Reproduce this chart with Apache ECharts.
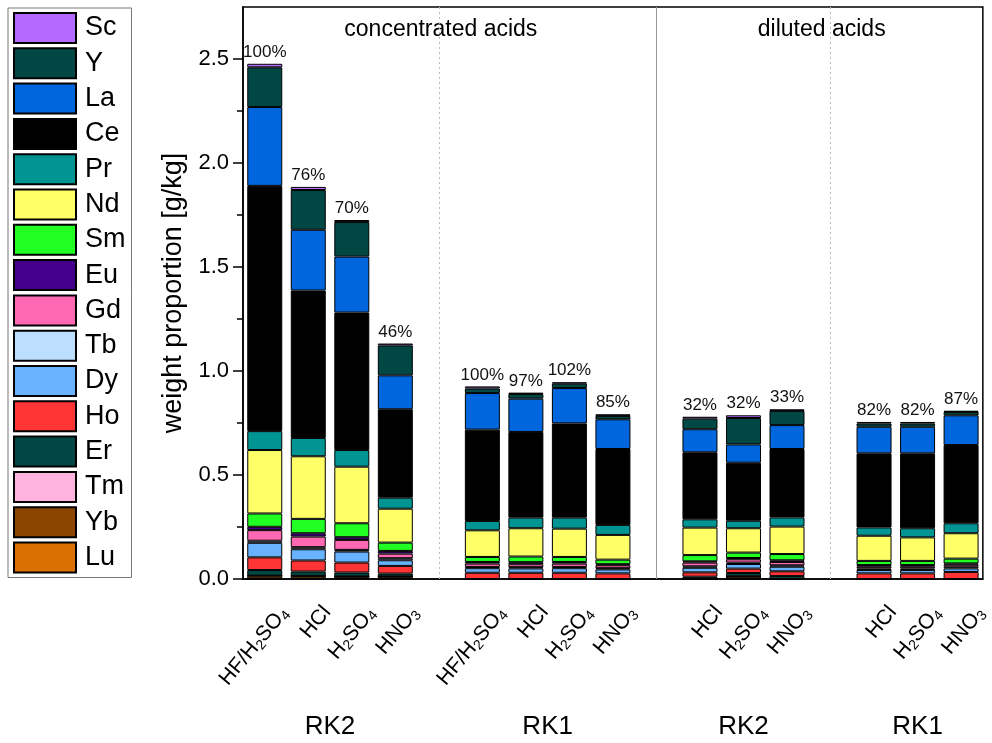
<!DOCTYPE html>
<html>
<head>
<meta charset="utf-8">
<script src="https://cdn.jsdelivr.net/npm/echarts@6/dist/echarts.min.js"></script>
<style>
  html, body { margin: 0; padding: 0; background: #fff; }
  #main { width: 992px; height: 743px; }
</style>
</head>
<body>
<div id="main"></div>
<script>
// bars left to right, the empty slots between the groups are added further down
var categories = ['HF/H2SO4', 'HCl', 'H2SO4', 'HNO3', 'HF/H2SO4', 'HCl', 'H2SO4', 'HNO3', 'HCl', 'H2SO4', 'HNO3', 'HCl', 'H2SO4', 'HNO3'];
var groupSizes = [4, 4, 3, 3];
var groupNames = ['RK2', 'RK1', 'RK2', 'RK1'];
var sectionNames = ['concentrated acids', 'diluted acids'];
var percents = ['100%', '76%', '70%', '46%', '100%', '97%', '102%', '85%', '32%', '32%', '33%', '82%', '82%', '87%'];
var yTicks = [0, 0.5, 1.0, 1.5, 2.0, 2.5];
var yMinorTicks = [0.25, 0.75, 1.25, 1.75, 2.25];

// weight proportion in g/kg per element (stacked from Lu at the bottom to Sc on top)
var Lu = [0.002, 0.002, 0.002, 0.002, 0, 0, 0, 0, 0, 0.002, 0, 0, 0, 0];
var Yb = [0.014, 0.013, 0.010, 0.010, 0, 0, 0, 0, 0.002, 0.011, 0, 0, 0, 0];
var Tm = [0, 0, 0, 0, 0, 0, 0, 0, 0, 0, 0, 0, 0, 0];
var Er = [0.027, 0.021, 0.019, 0.014, 0, 0, 0, 0, 0.009, 0.016, 0.014, 0, 0, 0];
var Ho = [0.061, 0.053, 0.048, 0.037, 0.030, 0.030, 0.030, 0.027, 0.021, 0.021, 0.023, 0.027, 0.027, 0.034];
var Dy = [0.070, 0.054, 0.053, 0.027, 0.022, 0.021, 0.022, 0.019, 0.022, 0.022, 0.022, 0.016, 0.016, 0.017];
var Tb = [0.010, 0.010, 0.008, 0.010, 0.006, 0.006, 0.006, 0.006, 0.007, 0.007, 0.007, 0.007, 0.007, 0.008];
var Gd = [0.051, 0.051, 0.048, 0.022, 0.016, 0.014, 0.016, 0.014, 0.018, 0.016, 0.016, 0.009, 0.009, 0.010];
var Eu = [0.016, 0.016, 0.013, 0.013, 0.008, 0.010, 0.008, 0.005, 0.006, 0.006, 0.008, 0.008, 0.008, 0.006];
var Sm = [0.064, 0.069, 0.067, 0.040, 0.024, 0.027, 0.024, 0.022, 0.030, 0.026, 0.030, 0.020, 0.020, 0.023];
var Nd = [0.305, 0.301, 0.272, 0.163, 0.128, 0.136, 0.136, 0.119, 0.132, 0.117, 0.132, 0.121, 0.113, 0.122];
var Pr = [0.091, 0.088, 0.080, 0.053, 0.045, 0.051, 0.053, 0.048, 0.040, 0.036, 0.044, 0.040, 0.044, 0.048];
var Ce = [1.179, 0.709, 0.661, 0.425, 0.439, 0.412, 0.453, 0.365, 0.322, 0.279, 0.329, 0.356, 0.360, 0.376];
var La = [0.379, 0.292, 0.269, 0.163, 0.176, 0.160, 0.170, 0.143, 0.111, 0.088, 0.115, 0.128, 0.128, 0.143];
var Y  = [0.191, 0.191, 0.166, 0.144, 0.022, 0.022, 0.021, 0.016, 0.051, 0.127, 0.068, 0.016, 0.016, 0.016];
var Sc = [0.017, 0.015, 0.010, 0.009, 0.010, 0.007, 0.007, 0.008, 0.009, 0.013, 0.008, 0.007, 0.007, 0.006];

var elements = [
  { name: 'Lu', data: Lu, color: '#D97000' },
  { name: 'Yb', data: Yb, color: '#8B4500' },
  { name: 'Tm', data: Tm, color: '#FFB3DE' },
  { name: 'Er', data: Er, color: '#014845' },
  { name: 'Ho', data: Ho, color: '#FF3535' },
  { name: 'Dy', data: Dy, color: '#68B3FF' },
  { name: 'Tb', data: Tb, color: '#BCDFFF' },
  { name: 'Gd', data: Gd, color: '#FF68B3' },
  { name: 'Eu', data: Eu, color: '#45008B' },
  { name: 'Sm', data: Sm, color: '#22FF22' },
  { name: 'Nd', data: Nd, color: '#FFFF68' },
  { name: 'Pr', data: Pr, color: '#009592' },
  { name: 'Ce', data: Ce, color: '#000000' },
  { name: 'La', data: La, color: '#0066DD' },
  { name: 'Y',  data: Y,  color: '#014845' },
  { name: 'Sc', data: Sc, color: '#B469FF' }
];

// put one empty slot between the groups
var withGaps = function(arr, gap) {
  var out = [], k = 0;
  groupSizes.forEach(function(n, g) {
    for (var i = 0; i < n; i++) out.push(arr[k++]);
    if (g < groupSizes.length - 1) out.push(gap);
  });
  return out;
};

var axisCats = withGaps(categories, '');
var axisPercents = withGaps(percents, '');
var gapIndex = [];
axisCats.forEach(function(c, i) { if (c === '') gapIndex.push(i); });

var font = '"Liberation Sans", Arial, sans-serif';

var series = elements.map(function(el) {
  var s = {
    name: el.name,
    type: 'bar',
    stack: 'total',
    barWidth: 35,
    data: withGaps(el.data, '-'),
    itemStyle: { color: el.color, borderColor: '#000', borderWidth: 1 }
  };
  if (el.name === 'Sc') {
    s.label = {
      show: true,
      position: 'top',
      distance: 3,
      fontFamily: font,
      fontSize: 17,
      color: '#111',
      formatter: function(p) { return axisPercents[p.dataIndex]; }
    };
    s.markLine = {
      silent: true,
      symbol: 'none',
      label: { show: false },
      data: gapIndex.map(function(i, n) {
        return {
          xAxis: i,
          lineStyle: n === 1 ? { type: 'solid', color: '#999', width: 1 } : { type: [2, 3], color: '#bbb', width: 1 }
        };
      })
    };
  }
  return s;
});

var chart = echarts.init(document.getElementById('main'));

var option = {
  animation: false,
  backgroundColor: '#fff',
  textStyle: { fontFamily: font },
  legend: {
    orient: 'vertical',
    left: 8,
    top: 8,
    padding: [4, 6, 4, 5],
    itemWidth: 62,
    itemHeight: 30,
    itemGap: 3.3,
    icon: 'rect',
    borderColor: '#777',
    borderWidth: 1,
    selectedMode: false,
    data: elements.map(function(e) { return e.name; }).reverse(),
    textStyle: { fontFamily: font, fontSize: 27, lineHeight: 28, color: '#000', padding: [0, 0, 0, 4] }
  },
  grid: {
    left: 243,
    right: 5,
    top: 7,
    bottom: 164,
    show: true,
    borderColor: '#000',
    borderWidth: 1.5
  },
  xAxis: {
    type: 'category',
    data: axisCats,
    axisLine: { lineStyle: { color: '#000', width: 1.5 } },
    axisTick: {
      alignWithLabel: true,
      length: 10,
      lineStyle: { color: '#000', width: 1.5 },
      interval: function(i, v) { return v !== ''; }
    },
    axisLabel: {
      interval: 0,
      rotate: 50,
      margin: 14,
      verticalAlign: 'top',
      padding: [14, 0, 0, 0],
      fontSize: 21,
      color: '#000',
      formatter: function(v) { return v.replace(/(\d)/g, '{s|$1}'); },
      rich: {
        s: { fontSize: 14, verticalAlign: 'bottom', padding: [10, 0, 0, 0] }
      }
    }
  },
  yAxis: [
    {
      type: 'value',
      min: 0,
      max: 2.75,
      interval: 0.5,
      name: 'weight proportion [g/kg]',
      nameLocation: 'middle',
      nameGap: 54,
      nameTextStyle: { fontSize: 27, color: '#000' },
      axisLine: { show: true, lineStyle: { color: '#000', width: 1.5 } },
      axisTick: { show: true, length: 10, customValues: yTicks, lineStyle: { color: '#000', width: 1.5 } },
      axisLabel: {
        customValues: yTicks,
        margin: 14,
        fontSize: 22,
        color: '#000',
        formatter: function(v) { return v.toFixed(1); }
      },
      splitLine: { show: false }
    },
    {
      type: 'value',
      min: 0,
      max: 2.75,
      position: 'left',
      axisLine: { show: false },
      axisTick: { show: true, length: 6, customValues: yMinorTicks, lineStyle: { color: '#000', width: 1.5 } },
      axisLabel: { show: false },
      splitLine: { show: false }
    }
  ],
  series: series
};

chart.setOption(option);

// group names under the axis, section names at the top of the plot
var px = function(i) { return chart.convertToPixel({ xAxisIndex: 0 }, i); };
var graphic = [];
var start = 0;
groupSizes.forEach(function(n, g) {
  var x = (px(start) + px(start + n - 1)) / 2;
  graphic.push({
    type: 'text', x: x, y: 727,
    style: { text: groupNames[g], fontFamily: font, fontSize: 26, fill: '#000', align: 'center', verticalAlign: 'middle' }
  });
  start += n + 1;
});
graphic.push({
  type: 'text', x: px(gapIndex[0]) + 2, y: 30,
  style: { text: sectionNames[0], fontFamily: font, fontSize: 23, fill: '#000', align: 'center', verticalAlign: 'middle' }
});
graphic.push({
  type: 'text', x: (px(gapIndex[1]) + 987) / 2, y: 30,
  style: { text: sectionNames[1], fontFamily: font, fontSize: 23, fill: '#000', align: 'center', verticalAlign: 'middle' }
});
chart.setOption({ graphic: graphic });
</script>
</body>
</html>
